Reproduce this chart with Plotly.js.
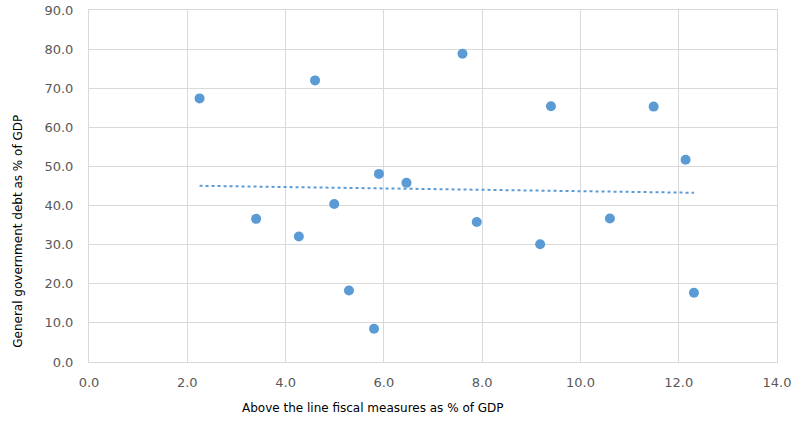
<!DOCTYPE html>
<html>
<head>
<meta charset="utf-8">
<script src="https://cdn.plot.ly/plotly-3.0.1.min.js"></script>
<style>html,body{margin:0;padding:0;background:#fff;}#chart{width:791px;height:423px;}</style>
</head>
<body>
<div id="chart"></div>
<script>
const fiscalMeasures = [2.25, 3.40, 4.27, 4.60, 4.99, 5.29, 5.80, 5.90, 6.46, 7.60, 7.89, 9.18, 9.40, 10.60, 11.49, 12.14, 12.31];
const govDebt =        [67.4, 36.6, 32.1, 72.0, 40.4, 18.3, 8.5, 48.1, 45.8, 78.8, 35.8, 30.1, 65.4, 36.7, 65.3, 51.7, 17.7];
const xTickVals = [0, 2, 4, 6, 8, 10, 12, 14];
const yTickVals = [0, 10, 20, 30, 40, 50, 60, 70, 80, 90];
const xTitle = 'Above the line fiscal measures as % of GDP';
const yTitle = 'General government debt as % of GDP';

// Linear trendline (least squares) from the data
const n = fiscalMeasures.length;
const mx = fiscalMeasures.reduce((a,b)=>a+b,0)/n;
const my = govDebt.reduce((a,b)=>a+b,0)/n;
let sxy = 0, sxx = 0;
for (let i=0;i<n;i++){ sxy += (fiscalMeasures[i]-mx)*(govDebt[i]-my); sxx += (fiscalMeasures[i]-mx)**2; }
const slope = sxy/sxx, intercept = my - slope*mx;
const xMin = Math.min(...fiscalMeasures), xMax = Math.max(...fiscalMeasures);
const trendX = [xMin, xMax];
const trendY = trendX.map(x => intercept + slope*x);

const color = '#5b9bd5';
const tickFont = {family: 'DejaVu Sans, Verdana, sans-serif', size: 13, color: '#595959'};
const titleFont = {family: 'DejaVu Sans, Verdana, sans-serif', size: 12, color: '#000000'};

const data = [
  {x: trendX, y: trendY, mode: 'lines', type: 'scatter',
   line: {color: color, width: 2, dash: 'dot'}, hoverinfo: 'skip'},
  {x: fiscalMeasures, y: govDebt, mode: 'markers', type: 'scatter',
   marker: {color: color, size: 10}}
];

const layout = {
  width: 791, height: 423,
  margin: {l: 88.7, r: 13.7, t: 9.7, b: 60.7, pad: 0},
  paper_bgcolor: '#ffffff', plot_bgcolor: '#ffffff',
  showlegend: false,
  xaxis: {
    range: [0, 14], tickvals: xTickVals, ticktext: xTickVals.map(v=>v.toFixed(1)),
    showgrid: true, gridcolor: '#d9d9d9', gridwidth: 1,
    zeroline: false, showline: true, linecolor: '#d9d9d9', linewidth: 1, mirror: true,
    ticks: 'outside', ticklen: 8, tickcolor: 'rgba(0,0,0,0)', tickfont: tickFont,
    ticklabeloverflow: 'allow'
  },
  yaxis: {
    range: [0, 90], tickvals: yTickVals, ticktext: yTickVals.map(v=>v.toFixed(1)),
    showgrid: true, gridcolor: '#d9d9d9', gridwidth: 1,
    zeroline: false, showline: true, linecolor: '#d9d9d9', linewidth: 1, mirror: true,
    ticks: 'outside', ticklen: 12, tickcolor: 'rgba(0,0,0,0)',
    tickfont: tickFont
  },
  annotations: [
    {text: xTitle, xref: 'paper', yref: 'paper', x: (373-88.7)/(777.3-88.7), y: -(408-362.3)/(362.3-9.7),
     showarrow: false, xanchor: 'center', yanchor: 'middle', font: titleFont},
    {text: yTitle, xref: 'paper', yref: 'paper', x: -(88.7-17.5)/(777.3-88.7), y: (362.3-231)/(362.3-9.7),
     showarrow: false, xanchor: 'center', yanchor: 'middle', textangle: -90, font: titleFont}
  ]
};

Plotly.newPlot('chart', data, layout, {displayModeBar: false, staticPlot: true});
</script>
</body>
</html>
